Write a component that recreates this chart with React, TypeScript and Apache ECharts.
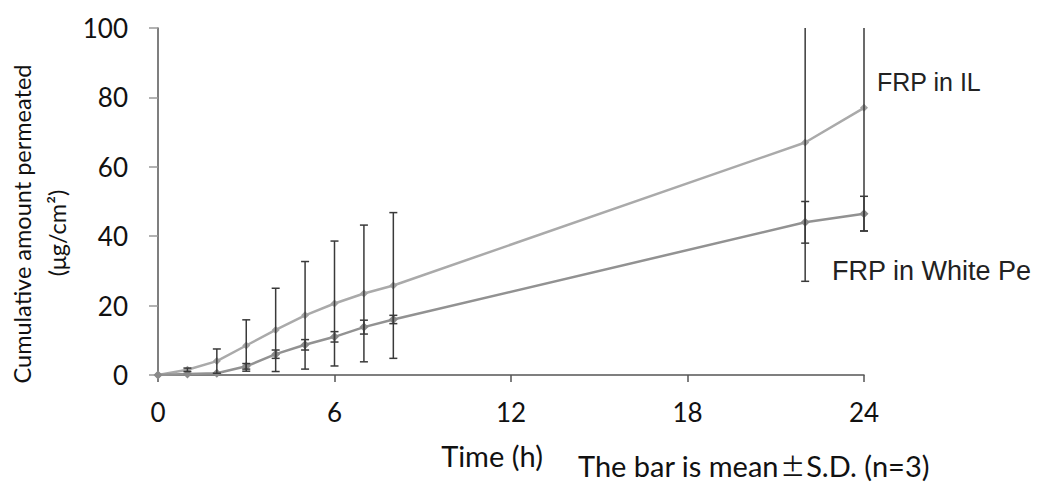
import React, { useEffect, useRef } from "react";
import * as echarts from "echarts";

const times = [0, 1, 2, 3, 4, 5, 6, 7, 8, 22, 24];
const ilMean = [0, 1.5, 4, 8.5, 13, 17.2, 20.6, 23.5, 25.8, 67, 77];
const ilSD = [0, 0.5, 3.5, 7.4, 12, 15.5, 18, 19.7, 21, 40, 35.5];
const whiteMean = [0, 0.3, 0.5, 2.5, 6, 8.7, 11, 13.8, 16, 44, 46.5];
const whiteSD = [0, 0, 0, 0.8, 1.2, 1.5, 1.5, 2, 1.2, 6, 5];
const xTicks = [0, 6, 12, 18, 24];
const yTicks = [0, 20, 40, 60, 80, 100];
const ilLabel = "FRP in IL";
const whiteLabel = "FRP in White Pe";
const xName = "Time (h)";
const yName1 = "Cumulative amount permeated";
const yName2 = "(μg/cm²)";
const notePre = "The bar is mean";
const notePm = "±";
const notePost = "S.D. (n=3)";

const Y_MAX = 100;
const FONT = "Lato, 'Open Sans', sans-serif";
const ARIAL = "'Liberation Sans', Arial, sans-serif";

function errData(mean: number[], sd: number[]) {
  return times.map((t, i) => [t, Math.max(0, mean[i] - sd[i]), mean[i] + sd[i]]);
}

function errSeries(name: string, data: number[][]) {
  return {
    type: "custom",
    name,
    z: 5,
    data,
    renderItem: (params: any, api: any) => {
      const x = api.value(0);
      const lo = api.value(1);
      const hiRaw = api.value(2);
      if (hiRaw - lo < 0.01) return { type: "group", children: [] };
      const hi = Math.min(hiRaw, Y_MAX);
      const top = api.coord([x, hi]);
      const bot = api.coord([x, lo]);
      const w = 4;
      const st = { stroke: "#3a3a3a", lineWidth: 1.5 };
      const children: any[] = [
        { type: "line", shape: { x1: top[0], y1: top[1], x2: bot[0], y2: bot[1] }, style: st },
        { type: "line", shape: { x1: bot[0] - w, y1: bot[1], x2: bot[0] + w, y2: bot[1] }, style: st },
      ];
      if (hiRaw <= Y_MAX) {
        children.push({ type: "line", shape: { x1: top[0] - w, y1: top[1], x2: top[0] + w, y2: top[1] }, style: st });
      }
      return { type: "group", children };
    },
  };
}

export default function App() {
  const ref = useRef<HTMLDivElement>(null);
  useEffect(() => {
    document.body.style.margin = "0";
    const chart = echarts.init(ref.current!, undefined, { renderer: "svg" });
    chart.setOption({
      animation: false,
      backgroundColor: "#ffffff",
      grid: { left: 158, right: 173, top: 28, bottom: 108, containLabel: false },
      xAxis: {
        type: "value",
        min: xTicks[0],
        max: xTicks[xTicks.length - 1],
        interval: 6,
        splitLine: { show: false },
        axisLine: { lineStyle: { color: "#555", width: 1.5 } },
        axisTick: { show: true, length: 7, lineStyle: { color: "#555", width: 1.5 } },
        axisLabel: { color: "#111", fontSize: 26, fontFamily: FONT, margin: 24 },
      },
      yAxis: {
        type: "value",
        min: yTicks[0],
        max: yTicks[yTicks.length - 1],
        interval: 20,
        splitLine: { show: false },
        axisLine: { show: true, lineStyle: { color: "#555", width: 1.5 } },
        axisTick: { show: true, length: 9, lineStyle: { color: "#999", width: 1.5 } },
        axisLabel: { color: "#111", fontSize: 26, fontFamily: FONT, margin: 30 },
      },
      series: [
        {
          type: "line",
          name: "FRP in IL",
          data: times.map((t, i) => [t, ilMean[i]]),
          symbol: "diamond",
          symbolSize: 8,
          lineStyle: { color: "#aaaaaa", width: 2.5 },
          itemStyle: { color: "#a2a2a2" },
          z: 3,
        },
        {
          type: "line",
          name: "FRP in White Petrolatum",
          data: times.map((t, i) => [t, whiteMean[i]]),
          symbol: "diamond",
          symbolSize: 9,
          lineStyle: { color: "#929292", width: 2.5 },
          itemStyle: { color: "#8a8a8a" },
          z: 3,
        },
        errSeries("il-err", errData(ilMean, ilSD)),
        errSeries("white-err", errData(whiteMean, whiteSD)),
      ],
      graphic: [
        {
          type: "text",
          x: 877,
          y: 82,
          style: { text: ilLabel, fontSize: 25, fontFamily: ARIAL, fill: "#222", textVerticalAlign: "middle" },
        },
        {
          type: "text",
          x: 832,
          y: 271,
          style: { text: whiteLabel, fontSize: 27, fontFamily: ARIAL, fill: "#222", textVerticalAlign: "middle" },
        },
        {
          type: "text",
          x: 492,
          y: 455,
          style: { text: xName, fontSize: 29, fontFamily: FONT, fill: "#111", textAlign: "center", textVerticalAlign: "middle" },
        },
        {
          type: "text",
          x: 578,
          y: 465,
          style: {
            text: "{a|" + notePre + "}{b|" + notePm + "}{a|" + notePost + "}",
            fontSize: 29,
            fontFamily: FONT,
            fill: "#111",
            textAlign: "left",
            textVerticalAlign: "middle",
            lineHeight: 28,
            rich: {
              a: { fontSize: 29, fontFamily: FONT, fill: "#111", lineHeight: 28 },
              b: { fontSize: 25, fontFamily: "'Noto Sans CJK JP', sans-serif", fill: "#111", lineHeight: 28, padding: [0, 1, 0, 1] },
            },
          },
        },
        {
          type: "text",
          x: 22,
          y: 224,
          rotation: Math.PI / 2,
          style: { text: yName1, fontSize: 23.5, fontFamily: FONT, fill: "#111", textAlign: "center", textVerticalAlign: "middle" },
        },
        {
          type: "text",
          x: 57,
          y: 233,
          rotation: Math.PI / 2,
          style: { text: yName2, fontSize: 23.5, fontFamily: FONT, fill: "#111", textAlign: "center", textVerticalAlign: "middle" },
        },
      ],
    });
    return () => chart.dispose();
  }, []);
  return <div ref={ref} style={{ width: 1037, height: 483 }} />;
}
